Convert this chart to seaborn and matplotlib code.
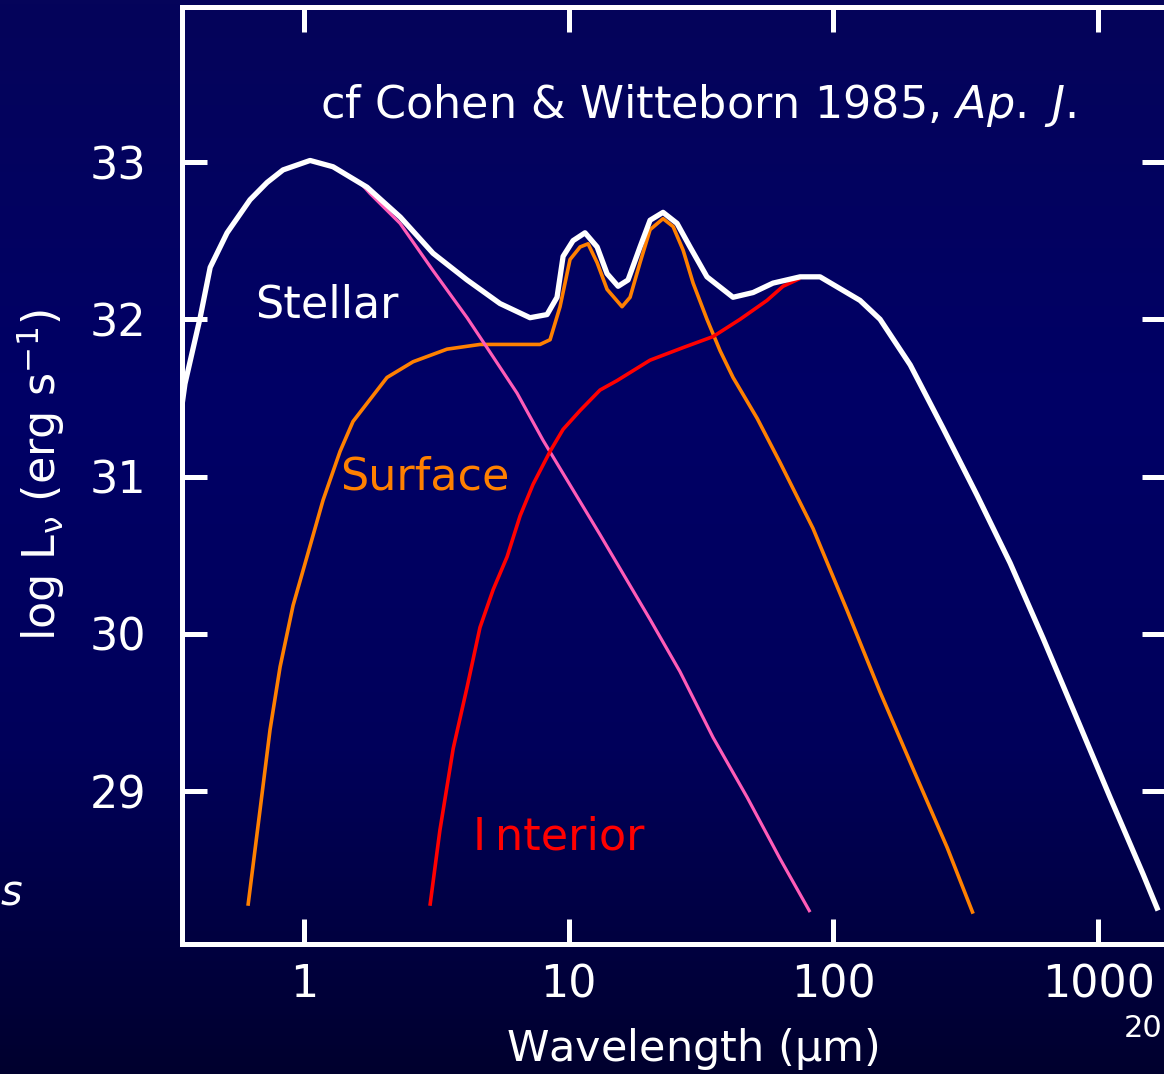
import numpy as np
import matplotlib
matplotlib.use("Agg")
import matplotlib.pyplot as plt
from matplotlib.colors import LinearSegmentedColormap
import seaborn as sns

# ---------------- data (wavelength in micron, log L_nu) ----------------
stellar_wl = [0.346, 0.355, 0.405, 0.442, 0.512, 0.625, 0.725, 0.833, 1.054, 1.287,
              1.73, 2.31, 3.07, 4.13, 5.50, 7.14, 8.28, 9.03, 9.52, 10.38,
              11.52, 12.80, 13.96, 15.36, 16.75, 18.59, 20.29, 22.71, 25.65, 28.72,
              33.28, 41.75, 49.7, 59.1, 74.8, 89.0, 126, 150, 195, 259,
              349, 465, 620, 832, 1109, 1479, 1684]
stellar_L = [31.455, 31.59, 32.01, 32.33, 32.55, 32.76, 32.87, 32.95, 33.01, 32.97,
             32.84, 32.65, 32.42, 32.25, 32.10, 32.01, 32.03, 32.14, 32.40, 32.50,
             32.55, 32.46, 32.29, 32.21, 32.25, 32.46, 32.63, 32.68, 32.61, 32.46,
             32.27, 32.14, 32.17, 32.23, 32.27, 32.27, 32.12, 32.00, 31.71, 31.31,
             30.88, 30.45, 29.97, 29.46, 28.96, 28.47, 28.24]

photo_wl = [1.628, 1.775, 2.305, 3.07, 4.13, 4.91, 6.38, 8.0, 13.13, 20.3,
            26.3, 35.1, 47.2, 62.8, 81.6]
photo_L = [32.87, 32.80, 32.61, 32.31, 32.01, 31.82, 31.53, 31.23, 30.63, 30.09,
           29.76, 29.34, 28.96, 28.57, 28.23]

surface_wl = [0.614, 0.682, 0.744, 0.812, 0.909, 1.026, 1.180, 1.368, 1.531, 1.775,
              2.058, 2.582, 3.468, 4.62, 7.79, 8.50, 9.27, 10.11, 11.04, 11.83,
              12.80, 13.96, 15.90, 17.05, 18.59, 20.29, 22.71, 24.78, 27.04, 29.5,
              33.28, 37.3, 41.75, 51.5, 62.8, 83.7, 112.5, 150, 200, 269, 337]
surface_L = [28.27, 28.88, 29.39, 29.79, 30.18, 30.49, 30.85, 31.16, 31.35, 31.49,
             31.63, 31.73, 31.81, 31.84, 31.84, 31.87, 32.08, 32.38, 32.46, 32.48,
             32.36, 32.19, 32.08, 32.14, 32.36, 32.57, 32.64, 32.59, 32.44, 32.23,
             32.00, 31.80, 31.63, 31.37, 31.09, 30.67, 30.15, 29.63, 29.14, 28.64, 28.22]

interior_wl = [2.99, 3.26, 3.66, 4.13, 4.62, 5.18, 5.85, 6.55, 7.33, 8.50,
               9.52, 11.04, 13.13, 15.22, 20.29, 27.04, 35.1, 44.4, 56.1, 64.5, 74.8]
interior_L = [28.27, 28.75, 29.27, 29.66, 30.04, 30.28, 30.49, 30.75, 30.95, 31.16,
              31.30, 31.42, 31.55, 31.61, 31.74, 31.82, 31.89, 32.00, 32.12, 32.21, 32.26]

x_ticks = [1, 10, 100, 1000]
x_ticklabels = ["1", "10", "100", "1000"]
y_ticks = [29, 30, 31, 32, 33]
y_ticklabels = ["29", "30", "31", "32", "33"]

# ---------------- figure ----------------
W, H = 1164, 1074
sns.set_theme(style="ticks")
plt.rcParams['font.family'] = ['DejaVu Sans']
plt.rcParams['mathtext.fontset'] = 'dejavusans'
plt.rcParams['mathtext.default'] = 'regular'

fig = plt.figure(figsize=(W / 100, H / 100), dpi=100)

# background gradient
bg = fig.add_axes([0, 0, 1, 1], zorder=-10)
cmap = LinearSegmentedColormap.from_list(
    "bg", [(0.0, "#05045A"), (0.38, "#000066"), (0.7, "#00005A"), (1.0, "#00002E")])
grad = np.linspace(0, 1, 256).reshape(-1, 1)
bg.imshow(grad, aspect="auto", cmap=cmap, extent=[0, 1, 1, 0])
bg.set_axis_off()

def fx(px):
    return px / W

def fy(py):
    return 1 - py / H

left, right, top, bottom = 182, 1167, 7, 944
ax = fig.add_axes([fx(left), fy(bottom), fx(right) - fx(left), (bottom - top) / H])
ax.set_facecolor("none")

sns.lineplot(x=surface_wl, y=surface_L, ax=ax, color="#FF8000", linewidth=2.6,
             estimator=None, sort=False)
sns.lineplot(x=photo_wl, y=photo_L, ax=ax, color="#FF5CB8", linewidth=2.3,
             estimator=None, sort=False)
sns.lineplot(x=interior_wl, y=interior_L, ax=ax, color="#FF0000", linewidth=2.6,
             estimator=None, sort=False)
sns.lineplot(x=stellar_wl, y=stellar_L, ax=ax, color="white", linewidth=3.8,
             estimator=None, sort=False)
for ln in ax.get_lines():
    ln.set_solid_joinstyle("round")
    ln.set_solid_capstyle("butt")

ax.set_xscale("log")
ax.set_xlim(0.3459, 1820)
ax.set_ylim(28.027, 33.986)
ax.xaxis.set_minor_locator(matplotlib.ticker.NullLocator())
ax.set_xticks(x_ticks)
ax.set_xticklabels(x_ticklabels)
ax.set_yticks(y_ticks)
ax.set_yticklabels(y_ticklabels)

for s in ax.spines.values():
    s.set_visible(True)
    s.set_color("white")
    s.set_linewidth(3.6)

ax.tick_params(axis="both", which="major", direction="in", length=18, width=3.6,
               color="white", labelcolor="white", labelsize=32,
               top=True, right=True)
ax.tick_params(axis="x", pad=14)
ax.tick_params(axis="y", pad=26)

ax.set_xlabel(r"Wavelength ($\mu$m)", color="white", fontsize=31)
ax.xaxis.set_label_coords((692 - left) / (right - left), -(1026 - bottom) / (bottom - top))
ax.set_ylabel(r"log L$_\nu$ (erg s$^{-1}$)", color="white", fontsize=32, labelpad=16)

# annotations (positions given in pixels)
fig.text(fx(320), fy(118), r"cf Cohen & Witteborn 1985, $\mathit{Ap.\ J.}$",
         color="white", fontsize=32, ha="left", va="baseline")
fig.text(fx(255), fy(318), "Stellar", color="white", fontsize=32, ha="left", va="baseline")
fig.text(fx(340), fy(490), "Surface", color="#FF8000", fontsize=32, ha="left", va="baseline")
fig.text(fx(473), fy(849), "I\u2009nterior", color="#FF0000", fontsize=32,
         ha="left", va="baseline")
fig.text(fx(1), fy(905), "s", color="white", fontsize=30, style="italic",
         ha="left", va="baseline")
fig.text(fx(1162), fy(1037), "20", color="white", fontsize=22, ha="right", va="baseline")

fig.savefig("out.png", dpi=100)
